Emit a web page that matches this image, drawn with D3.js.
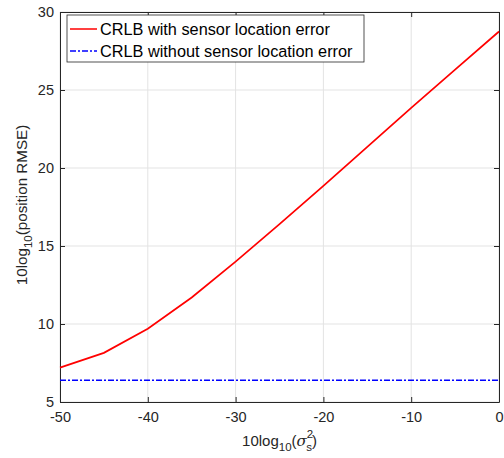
<!DOCTYPE html>
<html>
<head>
<meta charset="utf-8">
<script src="https://cdn.jsdelivr.net/npm/d3@7/dist/d3.min.js"></script>
<style>
  body { margin: 0; background: #fff; }
  svg { font-family: "Liberation Sans", Arial, sans-serif; }
</style>
</head>
<body>
<svg id="chart" width="504" height="458"></svg>
<script>
// sensor location error variance (dB)
var sigmaDb = [-50, -45, -40, -35, -30, -25, -20, -15, -10, -5, 0];
var withErr = [7.2, 8.15, 9.7, 11.7, 14.0, 16.4, 18.85, 21.35, 23.85, 26.3, 28.75];
var withoutErr = [6.4, 6.4, 6.4, 6.4, 6.4, 6.4, 6.4, 6.4, 6.4, 6.4, 6.4];
var xTicks = [-50, -40, -30, -20, -10, 0];
var yTicks = [5, 10, 15, 20, 25, 30];
var legendLabels = ["CRLB with sensor location error", "CRLB without sensor location error"];

var margin = { left: 60, right: 5, top: 12, bottom: 56 };
var W = 504, H = 458;
var iw = W - margin.left - margin.right;
var ih = H - margin.top - margin.bottom;

var svg = d3.select("#chart");
var g = svg.append("g").attr("transform", "translate(" + margin.left + "," + margin.top + ")");

var x = d3.scaleLinear().domain([-50, 0]).range([0, iw]);
var y = d3.scaleLinear().domain([5, 30]).range([ih, 0]);

var axisColor = "#262626";
var fmt = function(d) { return String(d); };

// grid
g.append("g").selectAll("line").data(xTicks).enter().append("line")
  .attr("x1", function(d) { return x(d); }).attr("x2", function(d) { return x(d); })
  .attr("y1", 0).attr("y2", ih)
  .attr("stroke", "#e3e3e3").attr("stroke-width", 1);
g.append("g").selectAll("line").data(yTicks).enter().append("line")
  .attr("y1", function(d) { return y(d); }).attr("y2", function(d) { return y(d); })
  .attr("x1", 0).attr("x2", iw)
  .attr("stroke", "#e3e3e3").attr("stroke-width", 1);

// axes (ticks inside, box on)
function styleAxis(sel) {
  sel.select(".domain").attr("stroke", axisColor);
  sel.selectAll(".tick line").attr("stroke", axisColor);
  sel.selectAll(".tick text").attr("fill", axisColor).attr("font-size", "14.5px")
    .attr("font-family", "'Liberation Sans', Arial, sans-serif");
}
var xAxis = g.append("g").attr("transform", "translate(0," + ih + ")")
  .call(d3.axisBottom(x).tickValues(xTicks).tickFormat(fmt).tickSizeInner(-5).tickSizeOuter(0).tickPadding(10));
styleAxis(xAxis);
var yAxis = g.append("g")
  .call(d3.axisLeft(y).tickValues(yTicks).tickFormat(fmt).tickSizeInner(-5).tickSizeOuter(0).tickPadding(6));
styleAxis(yAxis);
var xTop = g.append("g")
  .call(d3.axisTop(x).tickValues(xTicks).tickSizeInner(-5).tickSizeOuter(0).tickFormat(""));
styleAxis(xTop);
var yRight = g.append("g").attr("transform", "translate(" + iw + ",0)")
  .call(d3.axisRight(y).tickValues(yTicks).tickSizeInner(-5).tickSizeOuter(0).tickFormat(""));
styleAxis(yRight);

// lines
var line = d3.line()
  .x(function(d) { return x(d[0]); })
  .y(function(d) { return y(d[1]); });

g.append("path")
  .datum(d3.zip(sigmaDb, withoutErr))
  .attr("d", line)
  .attr("fill", "none")
  .attr("stroke", "#0000ff")
  .attr("stroke-width", 1.5)
  .attr("stroke-dasharray", "6,2,2,2");

g.append("path")
  .datum(d3.zip(sigmaDb, withErr))
  .attr("d", line)
  .attr("fill", "none")
  .attr("stroke", "#ff0000")
  .attr("stroke-width", 1.7);

// legend
var lg = svg.append("g").attr("transform", "translate(67,15)");
lg.append("rect")
  .attr("width", 297).attr("height", 47)
  .attr("fill", "#fff").attr("stroke", axisColor).attr("stroke-width", 0.8);
var legendStyles = [
  { color: "#ff0000", dash: null },
  { color: "#0000ff", dash: "6,2,2,2" }
];
legendLabels.forEach(function(lab, i) {
  var yy = 14 + i * 22;
  lg.append("line")
    .attr("x1", 3).attr("x2", 30).attr("y1", yy).attr("y2", yy)
    .attr("stroke", legendStyles[i].color)
    .attr("stroke-width", 1.5)
    .attr("stroke-dasharray", legendStyles[i].dash);
  lg.append("text")
    .attr("x", 33).attr("y", yy + 5.5)
    .attr("font-size", "16.3px")
    .attr("fill", "#000")
    .text(lab);
});

// axis labels
var xl = svg.append("text")
  .attr("x", margin.left + iw / 2).attr("y", 446)
  .attr("text-anchor", "middle")
  .attr("font-size", "15px")
  .attr("fill", axisColor);
xl.append("tspan").text("10log");
xl.append("tspan").attr("font-size", "11.5px").attr("dy", 5).text("10");
xl.append("tspan").attr("dy", -5).text("(");
xl.append("tspan").attr("font-family", "'DejaVu Serif', serif").attr("font-style", "italic").text("σ");
xl.append("tspan").attr("font-size", "11.5px").attr("dy", -8).text("2");
xl.append("tspan").attr("font-size", "11.5px").attr("dx", -7).attr("dy", 13).text("s");
xl.append("tspan").attr("dy", -5).text(")");

var yl = svg.append("text")
  .attr("transform", "translate(27," + (margin.top + ih / 2 - 2) + ") rotate(-90)")
  .attr("text-anchor", "middle")
  .attr("font-size", "15.2px")
  .attr("fill", axisColor);
yl.append("tspan").text("10log");
yl.append("tspan").attr("font-size", "11.5px").attr("dy", 5).text("10");
yl.append("tspan").attr("dy", -5).text("(position RMSE)");
</script>
</body>
</html>
